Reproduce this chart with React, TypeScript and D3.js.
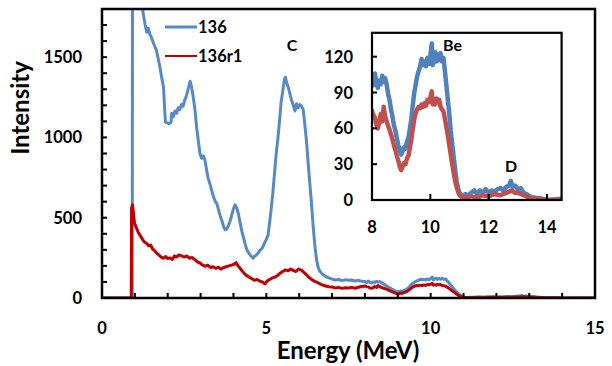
import { useEffect, useRef } from "react";
import * as d3 from "d3";

// spectrum "136" : [energy MeV, intensity]
const spectrum136: [number, number][] = [
  [0, 0], [0.5, 0], [0.92, 0], [0.93, 2600], [1.0, 2700], [1.1, 2400], [1.2, 1950],
  [1.24, 1790], [1.28, 1740], [1.31, 1705], [1.36, 1655], [1.41, 1680], [1.46, 1640],
  [1.51, 1620], [1.56, 1590], [1.61, 1565], [1.66, 1540], [1.71, 1490], [1.76, 1440],
  [1.81, 1380], [1.87, 1315], [1.9, 1200], [1.93, 1095], [2.0, 1090], [2.05, 1085],
  [2.1, 1095], [2.12, 1150], [2.17, 1130], [2.22, 1165], [2.27, 1150], [2.32, 1185],
  [2.37, 1175], [2.42, 1205], [2.47, 1195], [2.52, 1235], [2.57, 1260], [2.62, 1300],
  [2.68, 1350], [2.72, 1320], [2.77, 1260], [2.83, 1170], [2.88, 1060], [2.93, 980],
  [2.98, 900], [3.03, 870], [3.08, 885], [3.13, 860], [3.18, 800], [3.23, 745],
  [3.3, 700], [3.35, 660], [3.4, 625], [3.45, 600], [3.5, 585], [3.55, 545],
  [3.6, 510], [3.65, 480], [3.7, 445], [3.75, 425], [3.8, 430], [3.85, 455],
  [3.9, 480], [3.95, 520], [4.0, 555], [4.05, 580], [4.1, 560], [4.15, 525],
  [4.2, 470], [4.25, 420], [4.3, 380], [4.35, 340], [4.4, 305], [4.45, 285],
  [4.5, 270], [4.55, 258], [4.6, 248], [4.65, 262], [4.7, 268], [4.75, 280],
  [4.8, 295], [4.85, 305], [4.9, 320], [4.95, 345], [5.0, 365], [5.05, 390],
  [5.1, 470], [5.15, 560], [5.2, 660], [5.25, 780], [5.3, 900], [5.35, 990],
  [5.4, 1100], [5.45, 1220], [5.5, 1290], [5.55, 1360], [5.58, 1375], [5.62, 1340],
  [5.67, 1310], [5.72, 1270], [5.77, 1230], [5.82, 1200], [5.87, 1165], [5.92, 1210],
  [5.97, 1185], [6.02, 1205], [6.07, 1195], [6.12, 1175], [6.17, 1085], [6.22, 980],
  [6.27, 850], [6.32, 720], [6.37, 600], [6.42, 460], [6.47, 340], [6.52, 250],
  [6.57, 195], [6.62, 170], [6.7, 150], [6.8, 135], [6.9, 125], [7.0, 118],
  [7.1, 112], [7.2, 115], [7.3, 108], [7.4, 113], [7.5, 110], [7.6, 112],
  [7.7, 106], [7.8, 110], [7.9, 104], [8.0, 103], [8.05, 96], [8.1, 106],
  [8.15, 98], [8.2, 94], [8.25, 100], [8.3, 97], [8.35, 104], [8.4, 99],
  [8.45, 102], [8.5, 97], [8.55, 89], [8.6, 84], [8.65, 76], [8.7, 70],
  [8.75, 63], [8.8, 58], [8.85, 52], [8.9, 46], [8.95, 42], [9.0, 38],
  [9.05, 41], [9.1, 44], [9.15, 43], [9.2, 49], [9.25, 52], [9.3, 60],
  [9.35, 68], [9.4, 80], [9.45, 90], [9.5, 97], [9.55, 104], [9.6, 108],
  [9.65, 112], [9.7, 118], [9.75, 113], [9.8, 116], [9.85, 112], [9.9, 119],
  [9.95, 114], [10.0, 121], [10.05, 131], [10.08, 113], [10.12, 118], [10.16, 124],
  [10.2, 116], [10.25, 122], [10.3, 117], [10.35, 123], [10.4, 116], [10.45, 119],
  [10.5, 108], [10.55, 96], [10.6, 84], [10.65, 72], [10.7, 58], [10.75, 47],
  [10.8, 36], [10.85, 26], [10.9, 16], [10.95, 10], [11.0, 6], [11.05, 4],
  [11.1, 3], [11.2, 5], [11.3, 4], [11.4, 6], [11.5, 8], [11.6, 5],
  [11.7, 8], [11.8, 6], [11.9, 9], [12.0, 6], [12.1, 8], [12.2, 7],
  [12.3, 9], [12.4, 10], [12.5, 8], [12.6, 11], [12.7, 12], [12.76, 16],
  [12.82, 11], [12.9, 12], [13.0, 9], [13.1, 10], [13.2, 6], [13.3, 5],
  [13.4, 3], [13.5, 2], [13.6, 2], [13.8, 1], [14.0, 0], [14.5, 1], [15.0, 0],
];

// spectrum "136r1" : [energy MeV, intensity]
const spectrum136r1: [number, number][] = [
  [0, 0], [0.89, 0], [0.9, 560], [0.93, 580], [0.96, 520], [0.99, 465],
  [1.04, 440], [1.1, 410], [1.16, 390], [1.22, 370], [1.28, 350], [1.36, 340],
  [1.42, 325], [1.48, 330], [1.54, 305], [1.6, 295], [1.66, 280], [1.72, 270],
  [1.8, 255], [1.87, 248], [1.94, 258], [2.0, 245], [2.07, 250], [2.14, 240],
  [2.2, 262], [2.27, 255], [2.34, 268], [2.42, 262], [2.5, 255], [2.58, 262],
  [2.66, 248], [2.74, 252], [2.82, 240], [2.9, 225], [2.98, 218], [3.06, 205],
  [3.14, 198], [3.22, 205], [3.3, 190], [3.38, 195], [3.46, 185], [3.54, 192],
  [3.62, 180], [3.7, 190], [3.78, 195], [3.86, 200], [3.94, 205], [4.02, 210],
  [4.08, 220], [4.14, 200], [4.2, 185], [4.26, 170], [4.32, 155], [4.4, 140],
  [4.48, 130], [4.56, 120], [4.64, 110], [4.72, 115], [4.8, 105], [4.88, 100],
  [4.96, 88], [5.02, 105], [5.1, 115], [5.18, 125], [5.26, 130], [5.34, 140],
  [5.42, 155], [5.5, 165], [5.58, 175], [5.66, 170], [5.74, 180], [5.82, 172],
  [5.9, 165], [5.98, 180], [6.06, 175], [6.14, 160], [6.22, 145], [6.3, 128],
  [6.38, 115], [6.46, 105], [6.54, 98], [6.62, 90], [6.7, 82], [6.8, 75],
  [6.9, 70], [7.0, 68], [7.1, 63], [7.2, 66], [7.3, 60], [7.4, 64],
  [7.5, 62], [7.6, 66], [7.7, 61], [7.8, 67], [7.9, 72], [8.0, 75],
  [8.05, 71], [8.1, 69], [8.15, 63], [8.2, 60], [8.25, 65], [8.3, 72],
  [8.35, 66], [8.4, 78], [8.45, 70], [8.5, 66], [8.55, 62], [8.6, 59],
  [8.65, 55], [8.7, 51], [8.75, 46], [8.8, 42], [8.85, 37], [8.9, 33],
  [8.95, 28], [9.0, 25], [9.05, 28], [9.1, 31], [9.15, 30], [9.2, 35],
  [9.25, 37], [9.3, 44], [9.35, 51], [9.4, 60], [9.45, 68], [9.5, 73],
  [9.55, 76], [9.6, 78], [9.65, 77], [9.7, 80], [9.75, 78], [9.8, 81],
  [9.85, 79], [9.9, 84], [9.95, 82], [10.0, 86], [10.05, 91], [10.08, 80],
  [10.12, 83], [10.16, 80], [10.2, 85], [10.25, 82], [10.3, 84], [10.35, 78],
  [10.4, 76], [10.45, 74], [10.5, 68], [10.55, 61], [10.6, 54], [10.65, 46],
  [10.7, 38], [10.75, 30], [10.8, 23], [10.85, 16], [10.9, 11], [10.95, 7],
  [11.0, 4], [11.1, 2], [11.2, 2], [11.4, 3], [11.6, 2], [11.8, 4],
  [12.0, 3], [12.2, 5], [12.4, 4], [12.6, 6], [12.7, 7], [12.8, 8],
  [12.9, 6], [13.0, 6], [13.1, 5], [13.2, 4], [13.4, 2], [13.6, 1],
  [13.8, 1], [14.0, 0], [15.0, 0],
];

const seriesNames = ["136", "136r1"];
const mainXTicks = [0, 5, 10, 15];
const mainYTicks = [0, 500, 1000, 1500];
const insetXTicks = [8, 10, 12, 14];
const insetYTicks = [0, 30, 60, 90, 120];
const peakLabels = ["C", "Be", "D"];

const FONT = "Lato, 'Open Sans', sans-serif";

export default function App() {
  const svgRef = useRef<SVGSVGElement>(null);

  useEffect(() => {
    const svg = d3.select(svgRef.current);
    svg.selectAll("*").remove();

    // main plot
    const x = d3.scaleLinear().domain([0, 15]).range([102, 595]);
    const y = d3.scaleLinear().domain([0, 1800]).range([298, 9]);

    const defs = svg.append("defs");
    defs.append("clipPath").attr("id", "clipMain")
      .append("rect").attr("x", 102).attr("y", 9).attr("width", 493).attr("height", 289);

    const line = d3.line<[number, number]>().x((d) => x(d[0])).y((d) => y(d[1]));
    const gMain = svg.append("g").attr("clip-path", "url(#clipMain)");
    gMain.append("path").attr("d", line(spectrum136)).attr("fill", "none")
      .attr("stroke", "#5589c8").attr("stroke-width", 3).attr("stroke-linejoin", "round");
    gMain.append("path").attr("d", line(spectrum136r1)).attr("fill", "none")
      .attr("stroke", "#c00000").attr("stroke-width", 3).attr("stroke-linejoin", "round");

    // frame
    svg.append("rect").attr("x", 102).attr("y", 9).attr("width", 493).attr("height", 289)
      .attr("fill", "none").attr("stroke", "#000").attr("stroke-width", 2.5);

    // minor ticks, inside
    svg.append("g").selectAll("line").data(d3.range(100, 1800, 100)).join("line")
      .attr("x1", 102).attr("x2", 107).attr("y1", (d) => y(d)).attr("y2", (d) => y(d))
      .attr("stroke", "#000").attr("stroke-width", 2);
    svg.append("g").selectAll("line").data(d3.range(1, 15, 1)).join("line")
      .attr("y1", 298).attr("y2", 293).attr("x1", (d) => x(d)).attr("x2", (d) => x(d))
      .attr("stroke", "#000").attr("stroke-width", 2);

    const label = (g: any) => g.attr("font-family", FONT).attr("font-weight", 700).attr("fill", "#000");

    svg.append("g").call(label).attr("font-size", 16.5).attr("text-anchor", "end")
      .selectAll("text").data(mainYTicks).join("text")
      .attr("x", 82).attr("y", (d) => y(d) + 6).text((d) => d);
    svg.append("g").call(label).attr("font-size", 16.5).attr("text-anchor", "middle")
      .selectAll("text").data(mainXTicks).join("text")
      .attr("x", (d) => x(d)).attr("y", 334).text((d) => d);

    // axis titles
    svg.append("text").call(label).attr("font-size", 24).attr("text-anchor", "middle")
      .attr("x", 348).attr("y", 359).text("Energy (MeV)");
    svg.append("text").call(label).attr("font-size", 24).attr("text-anchor", "middle")
      .attr("transform", "translate(29,108) rotate(-90)").text("Intensity");

    // legend
    const legendColors = ["#5589c8", "#c00000"];
    const legendWidths = [3, 2];
    const lg = svg.append("g");
    seriesNames.forEach((name, i) => {
      const ly = 27 + i * 29;
      lg.append("line").attr("x1", 165).attr("x2", 197).attr("y1", ly).attr("y2", ly)
        .attr("stroke", legendColors[i]).attr("stroke-width", legendWidths[i]);
      lg.append("text").call(label).attr("font-size", 16.5)
        .attr("x", 198).attr("y", ly + 6).text(name);
    });

    svg.append("text").call(label).attr("font-size", 16).attr("text-anchor", "middle")
      .attr("x", 292).attr("y", 51).text(peakLabels[0]);

    // inset
    const xi = d3.scaleLinear().domain([8, 14.5]).range([372, 561.6]);
    const yi = d3.scaleLinear().domain([0, 140]).range([200, 32.8]);
    defs.append("clipPath").attr("id", "clipInset")
      .append("rect").attr("x", 372).attr("y", 32.8).attr("width", 189.6).attr("height", 167.2);

    svg.append("rect").attr("x", 372).attr("y", 32.8).attr("width", 189.6).attr("height", 167.2)
      .attr("fill", "#fff");

    const lineI = d3.line<[number, number]>().x((d) => xi(d[0])).y((d) => yi(d[1]));
    const gIn = svg.append("g").attr("clip-path", "url(#clipInset)");
    gIn.append("path").attr("d", lineI(spectrum136)).attr("fill", "none")
      .attr("stroke", "#4f81bd").attr("stroke-width", 4.5).attr("stroke-linejoin", "round");
    gIn.append("path").attr("d", lineI(spectrum136r1)).attr("fill", "none")
      .attr("stroke", "#c0504d").attr("stroke-width", 4.5).attr("stroke-linejoin", "round");

    svg.append("rect").attr("x", 372).attr("y", 32.8).attr("width", 189.6).attr("height", 167.2)
      .attr("fill", "none").attr("stroke", "#000").attr("stroke-width", 2.2);

    svg.append("g").selectAll("line").data(insetYTicks.slice(1)).join("line")
      .attr("x1", 372).attr("x2", 377).attr("y1", (d) => yi(d)).attr("y2", (d) => yi(d))
      .attr("stroke", "#000").attr("stroke-width", 2);
    svg.append("g").selectAll("line").data(insetXTicks.slice(1)).join("line")
      .attr("y1", 200).attr("y2", 194).attr("x1", (d) => xi(d)).attr("x2", (d) => xi(d))
      .attr("stroke", "#000").attr("stroke-width", 2);

    svg.append("g").call(label).attr("font-size", 16.5).attr("text-anchor", "end")
      .selectAll("text").data(insetYTicks).join("text")
      .attr("x", 353).attr("y", (d) => yi(d) + 6).text((d) => d);
    svg.append("g").call(label).attr("font-size", 16.5).attr("text-anchor", "middle")
      .selectAll("text").data(insetXTicks).join("text")
      .attr("x", (d) => xi(d)).attr("y", 233).text((d) => d);

    svg.append("text").call(label).attr("font-size", 16).attr("x", 443).attr("y", 51)
      .text(peakLabels[1]);
    svg.append("text").call(label).attr("font-size", 16).attr("text-anchor", "middle")
      .attr("x", 511).attr("y", 172).text(peakLabels[2]);
  }, []);

  return (
    <svg
      ref={svgRef}
      width={612}
      height={366}
      style={{ position: "absolute", left: 0, top: 0, background: "#fff" }}
    />
  );
}
